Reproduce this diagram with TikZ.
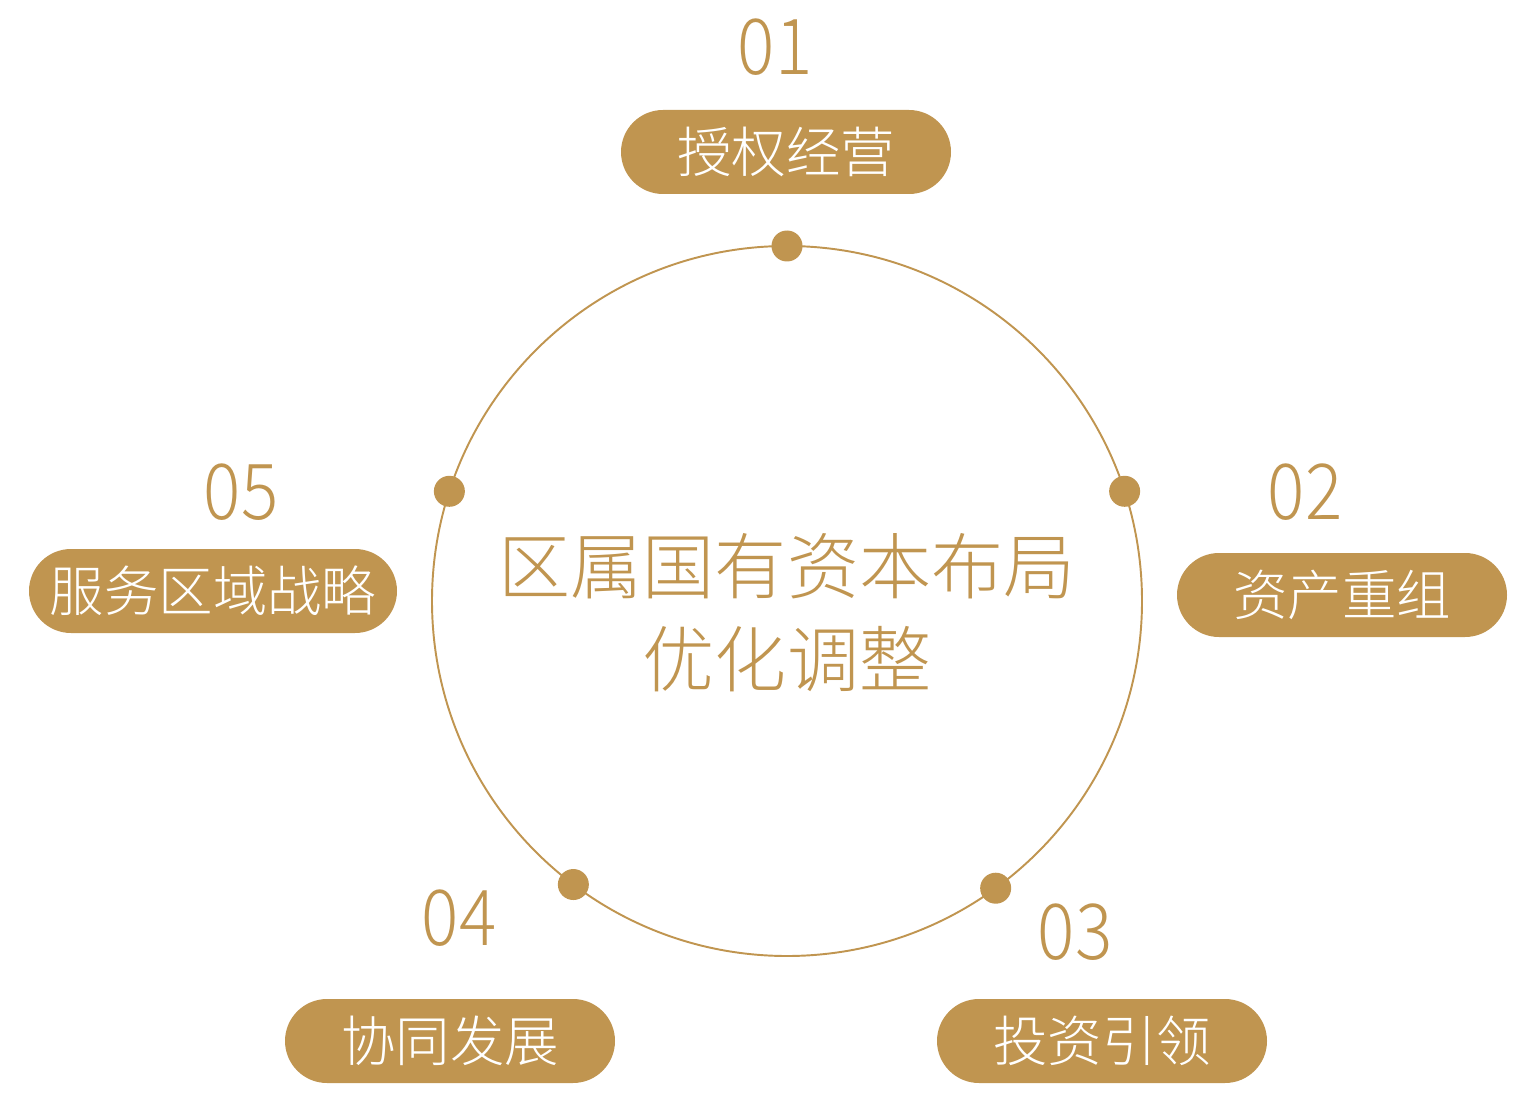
\documentclass[tikz,border=0pt]{standalone}
\usepackage{fontspec}
\setmainfont{Noto Sans CJK SC}[UprightFont=* Light]
\newfontfamily\numfont{Noto Sans CJK SC}[UprightFont=* Light, FakeStretch=0.9]
\usetikzlibrary{positioning,calc}
\definecolor{gold}{RGB}{192,149,80}
\tikzstyle{pill}=[fill=gold, rounded corners=42*0.02cm, minimum height=84*0.02cm,
    text=white, inner sep=0pt, font=\fontsize{31}{31}\selectfont]
\tikzstyle{num}=[text=gold, inner sep=0pt, font=\numfont\fontsize{44}{44}\selectfont]
\tikzstyle{dot}=[circle, fill=gold, minimum size=31*0.02cm, inner sep=0pt]
\def\ringrad{355}

\begin{document}
\begin{tikzpicture}[x=0.02cm, y=-0.02cm]
    \useasboundingbox (0,0) rectangle (1528,1108);
    \coordinate (c) at (787,601);
    \draw[gold, line width=1.1pt] (c) circle (\ringrad);
    \node (title) [text=gold, align=center, font=\fontsize{41}{53}\selectfont]
        at (787,613) {区属国有资本布局\\优化调整};
    % dots on the ring (y axis points down)
    \foreach \a/\n in {-90/1, -18/2, 54/3, 127/4, -162/5}
        \node (d\n) [dot] at ($(c)+(\a:\ringrad)$) {};
    \node (p1) [pill, minimum width=330*0.02cm] at (786,152) {授权经营};
    \node (p2) [pill, minimum width=330*0.02cm] at (1342,595) {资产重组};
    \node (p3) [pill, minimum width=330*0.02cm] at (1102,1041) {投资引领};
    \node (p4) [pill, minimum width=330*0.02cm] at (450,1041) {协同发展};
    \node (p5) [pill, minimum width=368*0.02cm] at (213,591) {服务区域战略};
    \node (n1) [num] at (775,47) {01};
    \node (n2) [num] at (1305,492) {02};
    \node (n3) [num] at (1075,932) {03};
    \node (n4) [num] at (459,918) {04};
    \node (n5) [num] at (241,492) {05};
\end{tikzpicture}
\end{document}
